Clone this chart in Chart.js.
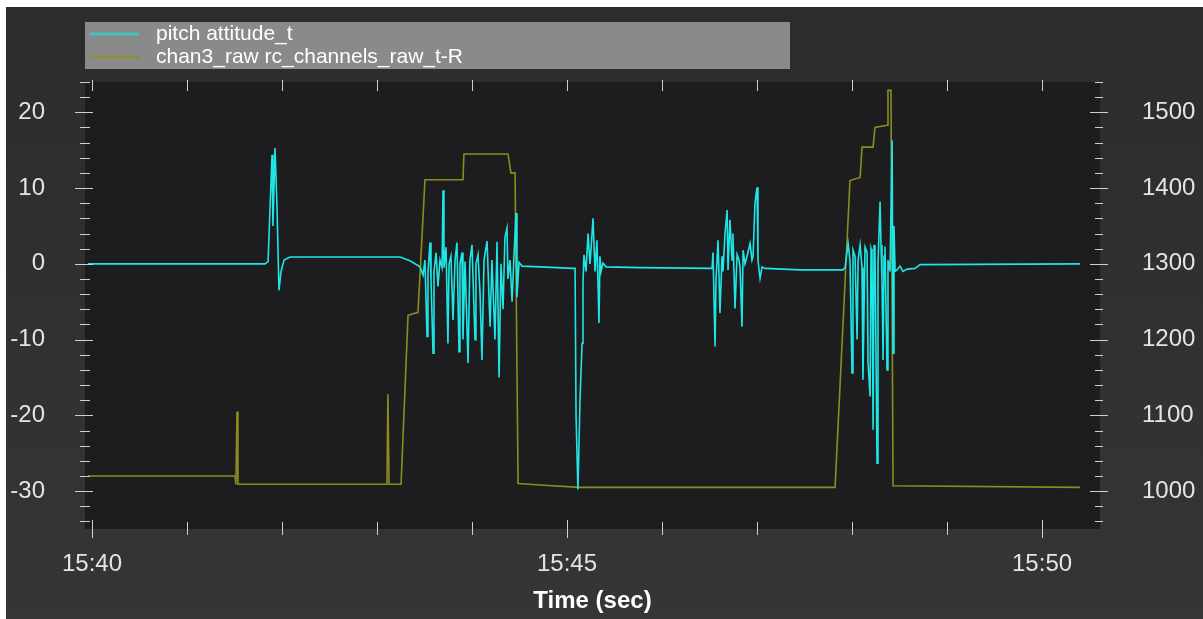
<!DOCTYPE html>
<html>
<head>
<meta charset="utf-8">
<title>pitch attitude / chan3_raw</title>
<script src="https://cdn.jsdelivr.net/npm/chart.js@4/dist/chart.umd.min.js"></script>
<style>
  html, body { margin: 0; padding: 0; background: #ffffff; overflow: hidden; }
  #wrap { position: relative; width: 1203px; height: 619px; }
  canvas { display: block; }
</style>
</head>
<body>
<div id="wrap"><canvas id="chart" width="1203" height="619"></canvas></div>
<script>
// Time is in seconds after 15:40:00.
const pitchLabel = 'pitch attitude_t';
const chanLabel = 'chan3_raw rc_channels_raw_t-R';

const pitchTime = [
  -2.5, 109.3, 111.2, 113.7, 114.3, 115.6, 116.8, 118.1, 119.4, 121.3, 125.1, 194.5, 200.8, 207.2,
  209.1, 210.3, 211.6, 212.2, 213.5, 214.1, 215.4, 216.0, 217.3, 218.5, 219.8, 221.1, 221.7, 222.3,
  223.6, 224.8, 225.5, 226.7, 228.0, 229.3, 230.5, 231.8, 232.4, 233.7, 234.3, 235.6, 237.5, 238.7,
  240.0, 241.9, 242.5, 243.8, 245.1, 246.3, 247.6, 249.5, 251.4, 252.6, 254.5, 255.8, 257.1, 258.3,
  259.6, 260.8, 262.1, 262.7, 264.0, 265.3, 266.5, 267.8, 268.4, 269.7, 271.6, 282.9, 303.8,
  305.1, 305.7, 306.9, 308.2, 309.5, 310.1, 310.7, 312.0, 313.3, 314.5, 315.2, 316.4, 317.7, 318.9,
  320.2, 320.8, 321.5, 322.7, 324.6, 346.1, 391.6,
  392.2, 393.5, 394.1, 395.4, 396.6, 397.9, 398.5, 399.8, 401.1, 401.7, 402.9, 404.2, 404.8, 406.1,
  407.4, 408.6, 409.3, 410.5, 411.2, 412.4, 413.7, 415.6, 416.8, 417.5, 418.7, 420.0, 420.6, 421.9,
  423.2, 425.0, 447.2, 474.3,
  475.6, 477.5, 478.7, 480.0, 480.6, 481.9, 483.2, 483.8, 485.1, 486.3, 486.9, 488.2, 489.5, 490.1,
  491.4, 492.0, 492.6, 493.3, 493.9, 494.5, 495.8, 496.4, 497.7, 498.3, 498.9, 499.6, 500.2, 500.8,
  502.1, 502.7, 504.0, 505.3, 505.9, 506.5, 507.2, 508.4, 510.3, 512.2, 514.7, 519.8, 523.0, 624.0
];
const pitchValue = [
  0.0, 0.0, 0.3, 14.4, 5.0, 15.3, 8.0, -3.5, -1.0, 0.5, 0.9, 0.9, 0.4, -0.4,
  -1.5, 0.5, -9.6, -1.0, 2.8, -2.0, -11.8, -1.0, 1.5, -3.0, 0.5, -0.5, 9.7, -0.5,
  2.2, -10.5, 0.0, 1.0, -7.4, 0.5, 2.8, -11.6, 0.0, 1.5, -10.0, 0.3, -13.1, 0.5,
  2.5, -10.0, 0.0, 1.2, -4.0, -12.7, 0.5, 3.0, -8.3, 0.5, -10.0, 2.9, -15.0, 0.0,
  -6.0, 3.5, 4.7, -2.0, 0.5, -5.0, 1.0, 6.7, -4.4, 0.2, -0.3, -0.4, -0.6,
  -0.6, -20.0, -29.8, -18.0, -10.5, -2.5, 1.2, -1.0, 4.0, 0.0, 2.0, 6.0, -1.0, 3.1,
  -7.8, 1.0, -1.0, 0.1, -0.4, -0.5, -0.6,
  1.5, -10.9, -2.0, 3.1, -6.5, 1.0, -1.0, 4.0, 7.1, -0.8, 5.8, 0.5, 4.0, -5.9,
  1.2, 0.5, -0.5, -8.3, 1.8, 0.0, 1.0, 2.7, 0.5, 1.0, 8.0, 10.1, 0.5, -1.9,
  -0.4, -0.6, -0.8, -0.8,
  -0.5, 2.7, 0.5, -14.4, 1.8, 1.0, -10.0, 0.5, 2.5, -0.5, -15.3, 2.2, 1.5, -13.0,
  -17.5, 2.0, 1.5, -21.9, 2.5, 1.5, -26.3, 0.0, 8.2, 2.5, -2.0, -12.7, 1.0, 2.3,
  -14.0, 0.5, -1.0, 16.3, -11.8, 5.0, -1.0, -0.8, -0.3, -1.0, -0.7, -0.6, -0.1, 0.0
];

const chanTime = [
  -2.5, 90.3, 90.9, 91.6, 92.2, 186.3, 186.9, 187.6, 195.2, 199.6, 205.9, 210.3, 234.3, 234.9,
  262.7, 264.6, 267.2, 269.1, 282.9, 308.2, 469.3, 478.7, 485.1, 486.3, 493.3, 494.5, 502.1,
  502.7, 504.6, 505.9, 624.0
];
const chanValue = [
  1020, 1020, 1009, 1105, 1009, 1009, 1128, 1009, 1009, 1232, 1236, 1411, 1411, 1445,
  1445, 1420, 1420, 1010, 1008, 1005, 1005, 1410, 1414, 1454, 1454, 1480, 1483,
  1529, 1529, 1007, 1005
];

// Axis limits and labelled ticks
const timeRange = [-4.4, 636.6];
const pitchRange = [-35, 24];
const chanRange = [950, 1540];
const timeTicks = [0, 300, 600];
const pitchTicks = [-30, -20, -10, 0, 10, 20];
const chanTicks = [1000, 1100, 1200, 1300, 1400, 1500];
const clockStartMinutes = 15 * 60 + 40;

const pitchColor = '#1fe6e6';
const chanColor = '#8c8c1e';

function clockLabel(seconds) {
  const total = clockStartMinutes + Math.round(seconds / 60);
  const h = Math.floor(total / 60);
  const m = total % 60;
  return h + ':' + String(m).padStart(2, '0');
}

const FONT = '"Liberation Sans", Arial, sans-serif';

// Frame, plot background, legend box, and the tick marks on all four sides.
const framePlugin = {
  id: 'frame',
  beforeDraw(chart) {
    const { ctx, chartArea: a, width, height } = chart;
    ctx.save();
    ctx.fillStyle = '#ffffff';
    ctx.fillRect(0, 0, width, height);
    const g = ctx.createLinearGradient(0, 7, 0, height);
    g.addColorStop(0, '#2c2c2c');
    g.addColorStop(1, '#353535');
    ctx.fillStyle = g;
    ctx.fillRect(6, 7, width - 6, height - 7);
    ctx.fillStyle = '#1d1d1f';
    ctx.fillRect(a.left, a.top, a.right - a.left, a.bottom - a.top);
    ctx.restore();
  },
  afterDraw(chart) {
    const { ctx, chartArea: a, scales } = chart;
    ctx.save();
    ctx.strokeStyle = '#cfcfcf';
    ctx.lineWidth = 1;
    ctx.beginPath();
    // left axis: minor every 2, major every 10
    for (let v = -34; v <= 24; v += 2) {
      const y = Math.round(scales.y.getPixelForValue(v)) + 0.5;
      const major = v % 10 === 0;
      ctx.moveTo(a.left - (major ? 10 : 5), y);
      ctx.lineTo(a.left + (major ? 8 : 5), y);
    }
    // right axis: minor every 20, major every 100
    for (let v = 960; v <= 1540; v += 20) {
      const y = Math.round(scales.y1.getPixelForValue(v)) + 0.5;
      const major = v % 100 === 0;
      ctx.moveTo(a.right - (major ? 10 : 5), y);
      ctx.lineTo(a.right + (major ? 8 : 3), y);
    }
    // time axis: every minute, on bottom and top
    for (let t = 0; t <= 600; t += 60) {
      const x = Math.round(scales.x.getPixelForValue(t)) + 0.5;
      const major = t % 300 === 0;
      ctx.moveTo(x, a.bottom - (major ? 9 : 7));
      ctx.lineTo(x, a.bottom + (major ? 9 : 6));
      ctx.moveTo(x, a.top - 2);
      ctx.lineTo(x, a.top + 9);
    }
    ctx.stroke();

    // legend
    const lx = a.left, ly = 22, lw = 790 - a.left, lh = 47;
    ctx.fillStyle = '#8a8a8a';
    ctx.fillRect(lx, ly, lw, lh);
    const rows = [
      { text: chart.data.datasets[0].label, color: '#3fc3ba', y: 34 },
      { text: chart.data.datasets[1].label, color: '#8e8e3a', y: 57 }
    ];
    ctx.font = '21px ' + FONT;
    ctx.textBaseline = 'middle';
    ctx.textAlign = 'left';
    for (const r of rows) {
      ctx.strokeStyle = r.color;
      ctx.lineWidth = 3;
      ctx.beginPath();
      ctx.moveTo(lx + 5, r.y);
      ctx.lineTo(lx + 54, r.y);
      ctx.stroke();
      ctx.fillStyle = '#ffffff';
      ctx.fillText(r.text, lx + 71, r.y);
    }
    ctx.restore();
  }
};

const tickFont = { family: FONT, size: 24 };
const fixedTicks = values => scale => { scale.ticks = values.map(v => ({ value: v })); };

new Chart(document.getElementById('chart'), {
  type: 'line',
  data: {
    datasets: [
      {
        label: pitchLabel,
        data: pitchTime.map((t, i) => ({ x: t, y: pitchValue[i] })),
        borderColor: pitchColor,
        borderWidth: 1.6,
        yAxisID: 'y'
      },
      {
        label: chanLabel,
        data: chanTime.map((t, i) => ({ x: t, y: chanValue[i] })),
        borderColor: chanColor,
        borderWidth: 1.6,
        yAxisID: 'y1'
      }
    ]
  },
  options: {
    responsive: false,
    animation: false,
    devicePixelRatio: 1,
    layout: { padding: { top: 82, left: 0, right: 0, bottom: 0 } },
    elements: { point: { radius: 0 }, line: { tension: 0, fill: false } },
    plugins: { legend: { display: false }, tooltip: { enabled: false } },
    scales: {
      x: {
        type: 'linear',
        position: 'bottom',
        min: timeRange[0],
        max: timeRange[1],
        afterBuildTicks: fixedTicks(timeTicks),
        afterFit(s) { s.height = 90; },
        grid: { display: false, drawTicks: false },
        border: { display: false },
        ticks: {
          autoSkip: false,
          maxRotation: 0,
          padding: 21,
          color: '#e4e4e4',
          font: tickFont,
          callback: v => clockLabel(v)
        },
        title: {
          display: true,
          text: 'Time (sec)',
          color: '#ffffff',
          font: { family: FONT, size: 24, weight: 'bold' },
          padding: { top: 0, bottom: 3 }
        }
      },
      y: {
        type: 'linear',
        position: 'left',
        min: pitchRange[0],
        max: pitchRange[1],
        afterBuildTicks: fixedTicks(pitchTicks),
        afterFit(s) { s.width = 85; },
        grid: { display: false, drawTicks: false },
        border: { display: false },
        ticks: {
          padding: 40,
          color: '#e4e4e4',
          font: tickFont,
          callback: v => String(v)
        }
      },
      y1: {
        type: 'linear',
        position: 'right',
        min: chanRange[0],
        max: chanRange[1],
        afterBuildTicks: fixedTicks(chanTicks),
        afterFit(s) { s.width = 103; },
        grid: { display: false, drawTicks: false },
        border: { display: false },
        ticks: {
          padding: 42,
          color: '#e4e4e4',
          font: tickFont,
          callback: v => String(v)
        }
      }
    }
  },
  plugins: [framePlugin]
});
</script>
</body>
</html>
